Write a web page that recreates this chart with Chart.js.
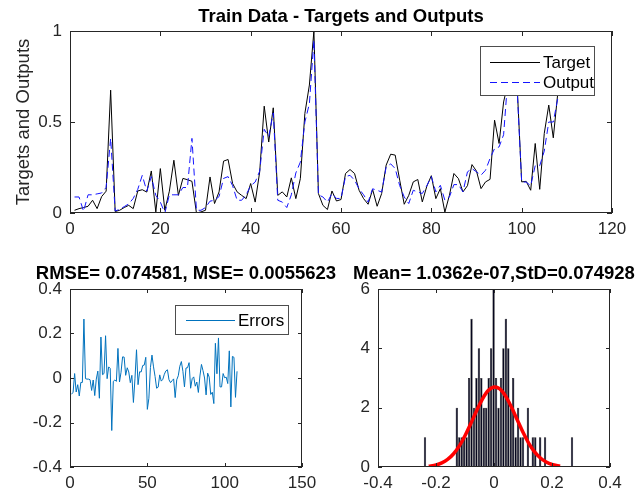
<!DOCTYPE html>
<html>
<head>
<meta charset="utf-8">
<script src="https://cdn.jsdelivr.net/npm/chart.js@4.4.1/dist/chart.umd.min.js"></script>
<style>
  html, body { margin: 0; padding: 0; background: #fff; }
  #fig { position: relative; width: 638px; height: 497px; overflow: hidden; }
  canvas { position: absolute; }
</style>
</head>
<body>
<div id="fig">
  <canvas id="cTrain" width="638" height="245" style="left:0;top:0"></canvas>
  <canvas id="cErr" width="350" height="242" style="left:0;top:255px"></canvas>
  <canvas id="cHist" width="318" height="242" style="left:320px;top:255px"></canvas>
</div>
<script>
// datos (108 muestras de entrenamiento)
const targets = [
  0.015, 0.024, 0.03, 0.037, 0.07, 0.024, 0.09, 0.12, 0.675, 0.008,
  0.015, 0.03, 0.042, 0.024, 0.121, 0.128, 0.115, 0.231, 0.006, 0.244,
  0.015, 0.12, 0.29, 0.097, 0.19, 0.183, 0.174, 0.0, 0.006, 0.015,
  0.198, 0.052, 0.116, 0.285, 0.294, 0.162, 0.116, 0.097, 0.079, 0.162,
  0.06, 0.226, 0.587, 0.39, 0.578, 0.097, 0.116, 0.088, 0.193, 0.079,
  0.189, 0.547, 0.703, 1.0, 0.107, 0.042, 0.019, 0.121, 0.066, 0.074,
  0.217, 0.239, 0.217, 0.125, 0.079, 0.048, 0.129, 0.037, 0.107, 0.263,
  0.323, 0.318, 0.18, 0.048, 0.097, 0.171, 0.184, 0.061, 0.147, 0.205,
  0.079, 0.134, 0.005, 0.097, 0.217, 0.189, 0.116, 0.15, 0.266, 0.23,
  0.134, 0.171, 0.185, 0.51, 0.382, 0.61, 0.72, 0.66, 0.70, 0.171,
  0.174, 0.125, 0.382, 0.13, 0.437, 0.593, 0.413, 0.66
];
const outputs = [
  0.088, 0.088, 0.01, 0.1, 0.1, 0.105, 0.11, 0.14, 0.41, 0.011,
  0.02, 0.035, 0.05, 0.08, 0.13, 0.207, 0.12, 0.2, 0.097, 0.06,
  0.0, 0.1, 0.1, 0.1, 0.14, 0.14, 0.41, 0.015, 0.015, 0.03,
  0.065, 0.07, 0.09, 0.19, 0.2, 0.15, 0.07, 0.07, 0.1, 0.15,
  0.17, 0.23, 0.46, 0.42, 0.55, 0.07, 0.06, 0.03, 0.1, 0.22,
  0.28, 0.5, 0.6, 0.95, 0.1, 0.088, 0.06, 0.107, 0.08, 0.08,
  0.2, 0.207, 0.18, 0.133, 0.1, 0.06, 0.133, 0.125, 0.115, 0.253,
  0.27, 0.244, 0.15, 0.088, 0.052, 0.125, 0.115, 0.107, 0.15, 0.2,
  0.116, 0.152, 0.07, 0.088, 0.156, 0.156, 0.116, 0.226, 0.244, 0.226,
  0.208, 0.235, 0.3, 0.354, 0.363, 0.43, 0.76, 0.7, 0.68, 0.17,
  0.17, 0.15, 0.26, 0.26, 0.34, 0.5, 0.5, 0.63
];
const errors = [
  -0.073, -0.064, 0.02, -0.063, -0.03, -0.081, -0.02, -0.02, 0.265, -0.003,
  -0.005, -0.005, -0.008, -0.056, -0.009, -0.079, -0.005, 0.031, -0.091, 0.184,
  0.015, 0.02, 0.19, -0.003, 0.05, 0.043, -0.236, -0.015, -0.009, -0.015,
  0.133, -0.018, 0.026, 0.095, 0.094, 0.012, 0.046, 0.027, -0.021, 0.012,
  -0.11, -0.004, 0.127, -0.03, 0.028, 0.027, 0.056, 0.058, 0.093, -0.141,
  -0.091, 0.047, 0.103, 0.05, 0.007, -0.046, -0.041, 0.014, -0.014, -0.006,
  0.017, 0.032, 0.037, -0.008, -0.021, -0.012, -0.004, -0.088, -0.008, 0.01,
  0.053, 0.074, 0.03, -0.04, 0.045, 0.046, 0.069, -0.046, -0.003, 0.005,
  -0.037, -0.018, -0.065, 0.009, 0.061, 0.033, 0.0, -0.076, 0.022, 0.004,
  -0.074, -0.064, -0.115, 0.156, 0.019, 0.18, -0.04, -0.04, 0.02, 0.001,
  0.004, -0.025, 0.122, -0.13, 0.097, 0.093, -0.087, 0.03
];

// histograma de errores: centros de clase y frecuencias
const histCenters = [
  -0.238, -0.1282, -0.1197, -0.1113, -0.1028, -0.0944, -0.0859, -0.0775, -0.069, -0.0606,
  -0.0521, -0.0437, -0.0352, -0.0268, -0.0183, -0.0099, -0.0014, 0.0071, 0.0155, 0.024,
  0.0324, 0.0409, 0.0493, 0.0578, 0.0662, 0.0747, 0.0831, 0.0916, 0.1, 0.1169,
  0.1338, 0.1423, 0.1592, 0.1761, 0.269
];
const histCounts = [
  1, 2, 1, 1, 1, 1, 3, 5, 2, 3,
  4, 3, 2, 2, 3, 4, 6, 3, 2, 3,
  4, 5, 4, 2, 3, 1, 2, 1, 1, 2,
  1, 1, 1, 1, 1
];

// curva normal ajustada
const fitX = [-0.225, -0.2, -0.18, -0.16, -0.14, -0.12, -0.1, -0.08, -0.06, -0.04, -0.02, 0.0,
  0.02, 0.04, 0.06, 0.08, 0.1, 0.12, 0.14, 0.16, 0.18, 0.2, 0.228];
const fitY = [0.026, 0.069, 0.137, 0.255, 0.438, 0.704, 1.052, 1.464, 1.897, 2.291, 2.576, 2.698,
  2.631, 2.39, 2.022, 1.594, 1.17, 0.8, 0.509, 0.302, 0.167, 0.086, 0.03];

const titleTrain = "Train Data - Targets and Outputs";
const titleErr = "RMSE= 0.074581, MSE= 0.0055623";
const titleHist = "Mean= 1.0362e-07,StD=0.074928";

const FONT = '"Liberation Sans", Arial, Helvetica, sans-serif';
Chart.defaults.font.family = FONT;
Chart.defaults.font.size = 17;
Chart.defaults.color = '#262626';
Chart.defaults.animation = false;

// caja, marcas hacia dentro, titulo y leyenda al estilo MATLAB
const matlabAxes = {
  id: 'matlabAxes',
  afterDatasetsDraw(chart, args, o) {
    const { ctx, chartArea: a, scales } = chart;
    ctx.save();
    ctx.strokeStyle = '#262626';
    ctx.lineWidth = 1;
    ctx.strokeRect(a.left + 0.5, a.top + 0.5, a.right - a.left - 1, a.bottom - a.top - 1);
    const tl = o.tickLen;
    ctx.beginPath();
    scales.x.ticks.forEach(t => {
      const px = Math.round(scales.x.getPixelForValue(t.value)) + 0.5;
      ctx.moveTo(px, a.bottom); ctx.lineTo(px, a.bottom - tl);
      ctx.moveTo(px, a.top); ctx.lineTo(px, a.top + tl);
    });
    scales.y.ticks.forEach(t => {
      const py = Math.round(scales.y.getPixelForValue(t.value)) + 0.5;
      ctx.moveTo(a.left, py); ctx.lineTo(a.left + tl, py);
      ctx.moveTo(a.right, py); ctx.lineTo(a.right - tl, py);
    });
    ctx.stroke();

    ctx.fillStyle = '#000';
    ctx.font = 'bold 18.5px ' + FONT;
    ctx.textAlign = 'center';
    ctx.textBaseline = 'middle';
    ctx.fillText(o.title, (a.left + a.right) / 2, o.titleY);

    if (o.legend) {
      const L = o.legend;
      ctx.fillStyle = '#fff';
      ctx.fillRect(L.x, L.y, L.w, L.h);
      ctx.strokeStyle = '#4d4d4d';
      ctx.strokeRect(L.x + 0.5, L.y + 0.5, L.w, L.h);
      ctx.font = '17px ' + FONT;
      ctx.textAlign = 'left';
      L.items.forEach((di, k) => {
        const ds = chart.data.datasets[di];
        const yy = Math.round(L.y + L.rowTop + k * L.rowH) + 0.5;
        ctx.beginPath();
        ctx.setLineDash(ds.borderDash || []);
        ctx.strokeStyle = ds.borderColor;
        ctx.lineWidth = ds.borderWidth;
        ctx.moveTo(L.x + L.s0, yy); ctx.lineTo(L.x + L.s1, yy);
        ctx.stroke();
        ctx.setLineDash([]);
        ctx.fillStyle = '#000';
        ctx.fillText(ds.label, L.x + L.tx, yy + 1);
      });
    }
    ctx.restore();
  }
};
Chart.register(matlabAxes);

const fmt = v => String(+(+v).toFixed(2));

function axis(min, max, step, size, isX, extra) {
  return Object.assign({
    type: 'linear', min, max, offset: false,
    grid: { display: false, drawTicks: false, tickLength: 0 },
    border: { display: false },
    ticks: { stepSize: step, callback: fmt, padding: isX ? 6 : 8, maxRotation: 0, autoSkip: false },
    afterFit: s => { if (isX) s.height = size; else s.width = size; }
  }, extra || {});
}

const noUi = { legend: { display: false }, tooltip: { enabled: false } };

// grafico 1: targets y outputs
new Chart(document.getElementById('cTrain'), {
  type: 'line',
  data: {
    datasets: [
      {
        label: 'Output',
        data: outputs.map((v, i) => ({ x: i + 1, y: v })),
        borderColor: '#1414ff', borderWidth: 1, borderDash: [7, 4],
        pointRadius: 0, tension: 0, order: 0
      },
      {
        label: 'Target',
        data: targets.map((v, i) => ({ x: i + 1, y: v })),
        borderColor: '#000000', borderWidth: 1,
        pointRadius: 0, tension: 0, order: 1
      }
    ]
  },
  options: {
    responsive: false,
    devicePixelRatio: 1,
    layout: { padding: { left: 0, right: 26, top: 31, bottom: 0 } },
    scales: {
      x: axis(0, 120, 20, 32, true),
      y: axis(0, 1, 0.5, 70, false, {
        title: { display: true, text: 'Targets and Outputs', font: { size: 18.5 }, color: '#262626', padding: { top: 13, bottom: 0 } }
      })
    },
    plugins: Object.assign({}, noUi, {
      matlabAxes: {
        title: titleTrain, titleY: 17, tickLen: 5,
        legend: { x: 480, y: 46, w: 114, h: 49, rowTop: 15.5, rowH: 20, s0: 10, s1: 60, tx: 63, items: [1, 0] }
      }
    })
  }
});

// grafico 2: errores
new Chart(document.getElementById('cErr'), {
  type: 'line',
  data: {
    datasets: [{
      label: 'Errors',
      data: errors.map((v, i) => ({ x: i + 1, y: v })),
      borderColor: '#0072BD', borderWidth: 1,
      pointRadius: 0, tension: 0
    }]
  },
  options: {
    responsive: false,
    devicePixelRatio: 1,
    layout: { padding: { left: 0, right: 48, top: 34, bottom: 0 } },
    scales: {
      x: axis(0, 150, 50, 30, true),
      y: axis(-0.4, 0.4, 0.2, 70, false)
    },
    plugins: Object.assign({}, noUi, {
      matlabAxes: {
        title: titleErr, titleY: 19, tickLen: 4,
        legend: { x: 175, y: 50, w: 113, h: 29, rowTop: 14.5, rowH: 20, s0: 11, s1: 60, tx: 63, items: [0] }
      }
    })
  }
});

// grafico 3: histograma + ajuste normal
new Chart(document.getElementById('cHist'), {
  type: 'bar',
  data: {
    datasets: [
      {
        type: 'line',
        label: 'Fit',
        data: fitX.map((x, i) => ({ x, y: fitY[i] })),
        borderColor: '#ff0000', borderWidth: 3.5,
        pointRadius: 0, tension: 0.3, order: 0
      },
      {
        label: 'Hist',
        data: histCenters.map((x, i) => ({ x, y: histCounts[i] })),
        backgroundColor: '#06061e', borderColor: '#000000', borderWidth: 0.5,
        barPercentage: 1, categoryPercentage: 0.95, order: 1
      }
    ]
  },
  options: {
    responsive: false,
    devicePixelRatio: 1,
    layout: { padding: { left: 0, right: 28, top: 34, bottom: 0 } },
    scales: {
      x: axis(-0.4, 0.4, 0.2, 30, true),
      y: axis(0, 6, 2, 58, false)
    },
    plugins: Object.assign({}, noUi, {
      matlabAxes: { title: titleHist, titleY: 19, tickLen: 4 }
    })
  }
});
</script>
</body>
</html>
